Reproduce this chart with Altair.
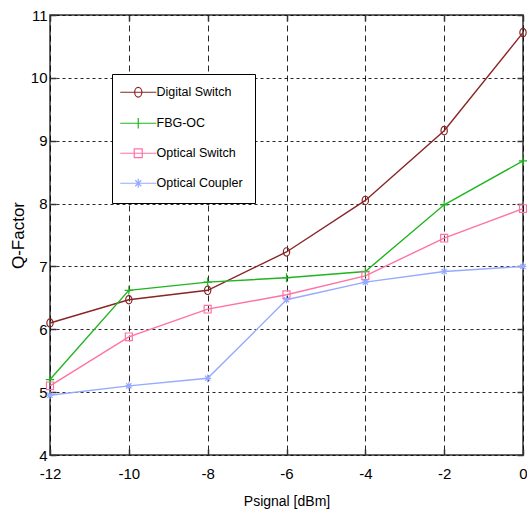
import altair as alt
import pandas as pd

x_vals = [-12, -10, -8, -6, -4, -2, 0]
series_names = ["Digital Switch", "FBG-OC", "Optical Switch", "Optical Coupler"]
digital_switch = [6.10, 6.47, 6.62, 7.23, 8.05, 9.16, 10.72]
fbg_oc = [5.20, 6.62, 6.75, 6.82, 6.92, 7.98, 8.68]
optical_switch = [5.10, 5.88, 6.32, 6.55, 6.85, 7.45, 7.92]
optical_coupler = [4.95, 5.10, 5.22, 6.47, 6.75, 6.92, 7.00]
series_colors = ["#8b2424", "#22b422", "#ff72a6", "#96aaff"]
x_ticks = [-12, -10, -8, -6, -4, -2, 0]
y_ticks = [4, 5, 6, 7, 8, 9, 10, 11]

rows = []
for name, vals in zip(series_names,
                      [digital_switch, fbg_oc, optical_switch, optical_coupler]):
    for xv, yv in zip(x_vals, vals):
        rows.append({"series": name, "x": xv, "y": yv})
df = pd.DataFrame(rows)

marker_paths = [
    "M0,-1.2A0.9,1.2 0 1 1 0,1.2A0.9,1.2 0 1 1 0,-1.2Z",
    "M-1.2,0H1.2M0,-1.3V1.3",
    "M-1,-1.1H1V1.1H-1Z",
    "M-1,0H1M0,-1.1V1.1M-0.75,-0.75L0.75,0.75M-0.75,0.75L0.75,-0.75",
]
legend_paths = ["M-4.5,0H4.5" + p for p in marker_paths]

font = "Liberation Sans, Arial"
xscale = alt.Scale(domain=[-12, 0], nice=False)
yscale = alt.Scale(domain=[4, 11], nice=False)

xenc = alt.X("x:Q", scale=xscale,
             axis=alt.Axis(values=x_ticks, title="Psignal [dBm]",
                           labelExpr="datum.value + ''", labelFlush=False,
                           grid=True, gridDash=[6, 4], gridColor="#000",
                           gridOpacity=0.85, domain=False, ticks=False, tickSize=0,
                           labelPadding=11, labelFontSize=15, labelFont=font,
                           titleFont=font, titleFontSize=14, titleFontWeight="normal",
                           titlePadding=13, labelColor="#000", titleColor="#000"))
yenc = alt.Y("y:Q", scale=yscale,
             axis=alt.Axis(values=y_ticks, title="Q-Factor",
                           labelExpr="datum.value + ''", labelFlush=False,
                           grid=True, gridDash=[3, 3], gridColor="#000",
                           gridOpacity=0.85, domain=False, ticks=False, tickSize=0,
                           labelPadding=3, labelFontSize=15, labelFont=font,
                           titleFont=font, titleFontSize=17,
                           titleFontWeight="normal", titlePadding=3,
                           labelColor="#000", titleColor="#000"))


def tick_axis(orient, vals):
    return alt.Axis(orient=orient, values=vals, offset=-6, tickSize=6, ticks=True,
                    tickColor="#333", tickWidth=1.5, labels=False, grid=False,
                    domain=False, title=None)


cscale = alt.Scale(domain=series_names, range=series_colors)

base = alt.Chart(df)
lines = base.mark_line(strokeWidth=1.4).encode(
    x=xenc, y=yenc,
    color=alt.Color("series:N", scale=cscale, legend=None),
    order="x:Q",
)
points = base.mark_point(filled=False, size=49, strokeWidth=1.2, opacity=1).encode(
    x=alt.X("x:Q", scale=xscale, axis=None),
    y=alt.Y("y:Q", scale=yscale, axis=None),
    color=alt.Color("series:N", scale=cscale, legend=None),
    shape=alt.Shape("series:N", scale=alt.Scale(domain=series_names, range=marker_paths),
                    legend=None),
)
leg = alt.Legend(
    title=None, orient="none", legendX=62, legendY=59,
    fillColor="white", strokeColor="#000", padding=12,
    rowPadding=15, labelFont=font, labelFontSize=12.5, labelColor="#000",
    symbolOffset=8, labelOffset=12, symbolStrokeWidth=1.2, symbolSize=64,
    cornerRadius=0,
)
legend_layer = base.transform_filter("datum.x > 100").mark_point(
    filled=False, size=64, strokeWidth=1.2, opacity=1).encode(
    x=alt.X("x:Q", scale=xscale, axis=tick_axis("top", x_ticks)),
    y=alt.Y("y:Q", scale=yscale, axis=tick_axis("right", y_ticks)),
    color=alt.Color("series:N", scale=cscale, legend=leg),
    shape=alt.Shape("series:N", scale=alt.Scale(domain=series_names, range=legend_paths),
                    legend=leg),
)
tick_layer = base.transform_filter("datum.x > 100").mark_point(opacity=0).encode(
    x=alt.X("x:Q", scale=xscale, axis=tick_axis("bottom", x_ticks)),
    y=alt.Y("y:Q", scale=yscale, axis=tick_axis("left", y_ticks)),
)

chart = alt.layer(lines, points, legend_layer, tick_layer).resolve_scale(
    color="independent", shape="independent"
).resolve_axis(x="independent", y="independent").properties(
    width=473, height=440,
    autosize=alt.AutoSizeParams(type="none"),
    padding={"left": 50, "top": 15, "right": 4, "bottom": 59},
    background="white",
).configure_view(stroke="#333", strokeWidth=1.5)

chart.save("out.html", embed_options={"renderer": "svg", "actions": False})
